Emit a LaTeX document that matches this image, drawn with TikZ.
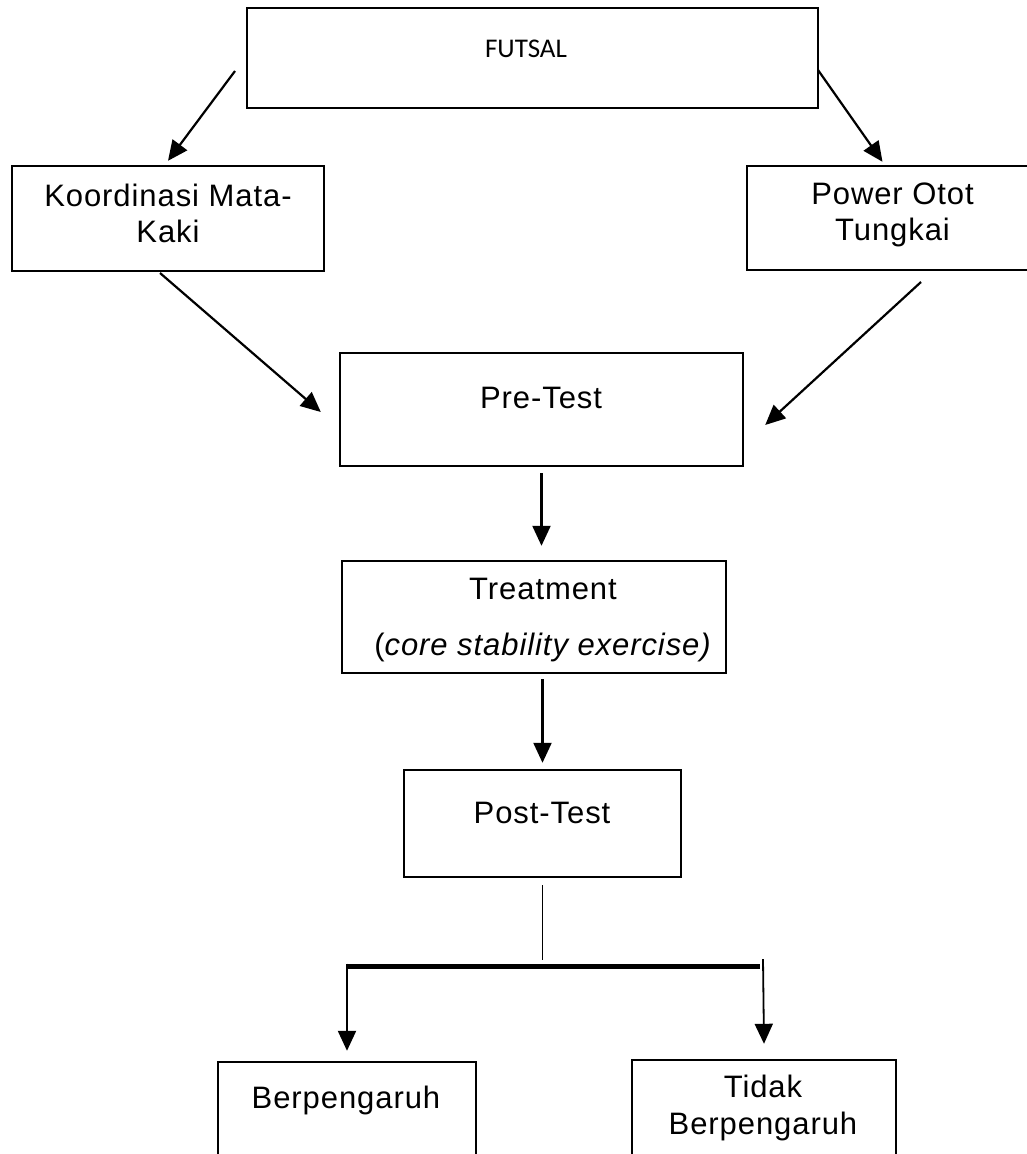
\documentclass[tikz,border=0pt]{standalone}
\usepackage{fontspec}
\setmainfont{Liberation Sans}[LetterSpace=3]
\newfontfamily\calfont{Carlito}
\usetikzlibrary{arrows.meta}
\begin{document}
\begin{tikzpicture}[x=1pt,y=-1pt,
  box/.style={draw, line width=2.4pt, rectangle, inner sep=0pt},
  txt/.style={inner sep=0pt, anchor=base, font=\fontsize{31}{37}\selectfont},
  arr/.style={line width=2.2pt, -{Triangle[length=20pt,width=18pt]}}]
\useasboundingbox (0,0) rectangle (1027,1154);
\clip (0,0) rectangle (1027,1154);
% boxes
\node[box, minimum width=571pt, minimum height=100pt] (futsal) at (532.5,58) {};
\node[box, minimum width=312pt, minimum height=105pt] (koord) at (168,218.5) {};
\node[box, minimum width=291pt, minimum height=104pt] (power) at (892.5,218) {};
\node[box, minimum width=403pt, minimum height=113pt] (pre) at (541.5,409.5) {};
\node[box, minimum width=384pt, minimum height=112pt] (treat) at (534,617) {};
\node[box, minimum width=277pt, minimum height=107pt] (post) at (542.5,823.5) {};
\node[box, minimum width=258pt, minimum height=138pt] (berp) at (347,1131) {};
\node[box, minimum width=264pt, minimum height=140pt] (tidak) at (764,1130) {};
% texts
\node[inner sep=0pt, anchor=base, font=\calfont\fontsize{27}{32}\selectfont] (futsalT) at (526,57) {FUTSAL};
\node[txt] (koordT1) at (168,206) {Koordinasi Mata-};
\node[txt] (koordT2) at (168,242) {Kaki};
\node[txt] (powerT1) at (892.5,204) {Power Otot};
\node[txt] (powerT2) at (892.5,240) {Tungkai};
\node[txt] (preT) at (541,408) {Pre-Test};
\node[txt] (treatT1) at (543,599) {Treatment};
\node[txt] (treatT2) at (543,655) {(\textit{core stability exercise)}};
\node[txt] (postT) at (542,823) {Post-Test};
\node[txt] (berpT) at (346,1108) {Berpengaruh};
\node[txt] (tidakT1) at (763,1097) {Tidak};
\node[txt] (tidakT2) at (763,1134) {Berpengaruh};
% free ends
\coordinate (f1) at (235,71);
\coordinate (f2) at (818,70);
\coordinate (k1) at (160,273);
\coordinate (p1) at (921,282);
\coordinate (jl) at (347,966);
\coordinate (jr) at (760,966);
\coordinate (rt) at (763,959);
% connectors
\draw[arr] (f1) -- ([yshift=4pt]koord.north);
\draw[arr] (f2) -- ([xshift=-10pt,yshift=3pt]power.north);
\draw[arr] (k1) -- ([xshift=-18pt,yshift=-2.5pt]pre.west);
\draw[arr] (p1) -- ([xshift=21pt,yshift=-15.5pt]pre.east);
\draw[arr] ([yshift=-6pt]pre.south) -- ([yshift=14pt]pre.south |- treat.north);
\draw[arr] ([yshift=-5pt]post.north |- treat.south) -- ([yshift=6pt]post.north);
\draw[line width=1pt] ([yshift=-7pt]post.south) -- ++(0,75);
\draw[line width=5pt] (jl) -- (jr);
\draw[arr] ([yshift=2.5pt]jl) -- ([yshift=10pt]berp.north);
\draw[arr, line width=1.8pt] (rt) -- ([yshift=15pt]tidak.north);
\end{tikzpicture}
\end{document}
